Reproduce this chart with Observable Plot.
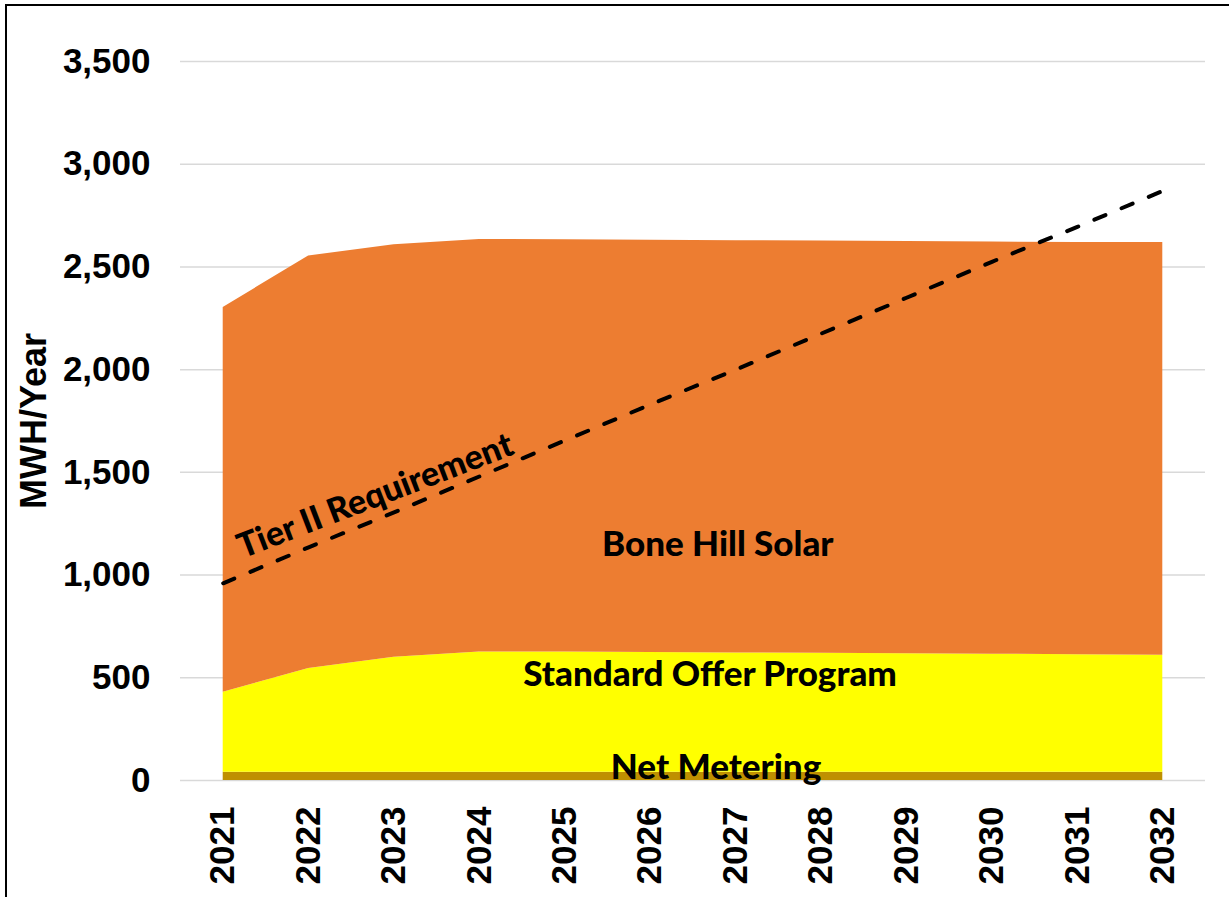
<!DOCTYPE html>
<html><head><meta charset="utf-8">
<script src="https://cdn.jsdelivr.net/npm/d3@7"></script>
<script src="https://cdn.jsdelivr.net/npm/@observablehq/plot@0.6"></script>
<style>
html,body{margin:0;padding:0;background:#fff;overflow:hidden;width:1229px;height:897px;}
#frame{position:absolute;left:5px;top:4px;width:1400px;height:1000px;border:2px solid #000;box-sizing:border-box;}
#chart{position:absolute;left:0;top:0;}
</style></head><body>
<div id="frame"></div>
<div id="chart"></div>
<script>
const years = [2021, 2022, 2023, 2024, 2025, 2026, 2027, 2028, 2029, 2030, 2031, 2032];
const netMetering = [40, 40, 40, 40, 40, 40, 40, 40, 40, 40, 40, 40];
const standardOffer = [390, 505, 560, 585, 585, 583, 581, 579, 577, 575, 572, 570];
const boneHillSolar = [1873, 2008, 2008, 2009, 2007, 2007, 2007, 2007, 2007, 2006, 2007, 2009];
const tierIIRequirement = [960, 1135, 1305, 1480, 1655, 1830, 2000, 2175, 2350, 2525, 2695, 2870];
const seriesNames = ["Net Metering", "Standard Offer Program", "Bone Hill Solar"];
const seriesColors = ["#bf9000", "#ffff00", "#ed7d31"];
const yTicks = [0, 500, 1000, 1500, 2000, 2500, 3000, 3500];
const areaLabels = [
  {text: "Bone Hill Solar", x: 2026.79, y: 1146},
  {text: "Standard Offer Program", x: 2026.7, y: 514},
  {text: "Net Metering", x: 2026.77, y: 61}
];
const lineLabel = [{text: "Tier II Requirement", x: 2022.78, y: 1385}];

const seriesValues = [netMetering, standardOffer, boneHillSolar];
const rows = [];
years.forEach((yr, i) => {
  seriesNames.forEach((s, j) => rows.push({year: yr, series: s, value: seriesValues[j][i]}));
});
const tierRows = years.map((yr, i) => ({year: yr, value: tierIIRequirement[i]}));

const labelFont = "Lato, 'Open Sans', sans-serif";
const axisFont = "'Liberation Sans', Arial, sans-serif";

const chart = Plot.plot({
  width: 1229,
  height: 897,
  marginLeft: 180,
  marginRight: 24,
  marginTop: 61,
  marginBottom: 117,
  style: {fontFamily: axisFont, color: "#000", background: "transparent", overflow: "visible"},
  x: {type: "linear", domain: [2020.5, 2032.5]},
  y: {domain: [0, 3500]},
  color: {domain: seriesNames, range: seriesColors},
  marks: [
    Plot.ruleY(yTicks, {stroke: "#d9d9d9", strokeWidth: 1.5}),
    Plot.areaY(rows, {x: "year", y: "value", fill: "series", order: seriesNames}),
    Plot.lineY(tierRows, {x: "year", y: "value", stroke: "#000", strokeWidth: 4, strokeDasharray: "12,17.5", strokeLinecap: "round"}),
    Plot.axisY({ticks: yTicks, tickFormat: d3.format(","), tickSize: 0, tickPadding: 30, fontSize: 35, fontWeight: "bold", fontFamily: axisFont, fill: "#000", label: null}),
    Plot.axisX({ticks: years, tickFormat: d => String(d), tickRotate: -90, tickSize: 0, tickPadding: 26, fontSize: 35, fontWeight: "bold", fontFamily: axisFont, fill: "#000", label: null}),
    Plot.text(["MWH/Year"], {frameAnchor: "left", textAnchor: "middle", dx: -146, rotate: -90, fontSize: 36, fontWeight: "bold", fontFamily: axisFont, fill: "#000"}),
    Plot.text(areaLabels, {x: "x", y: "y", text: "text", fontSize: 35, fontWeight: 900, fontFamily: labelFont, fill: "#000"}),
    Plot.text(lineLabel, {x: "x", y: "y", text: "text", rotate: -21, fontSize: 34, fontWeight: 900, fontFamily: labelFont, fill: "#000"})
  ]
});
document.getElementById("chart").appendChild(chart);
</script>
</body></html>
